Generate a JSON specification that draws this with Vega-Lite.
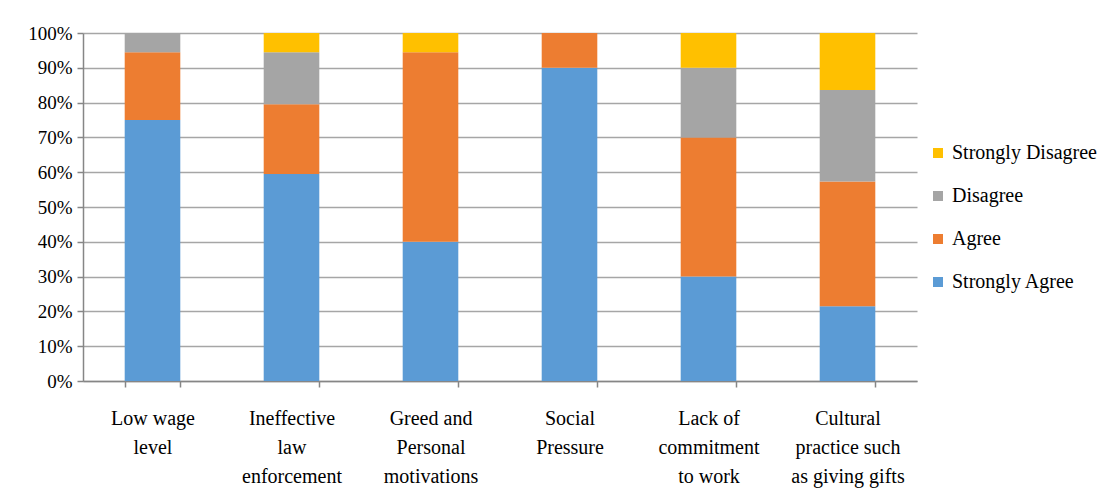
{
  "$schema": "https://vega.github.io/schema/vega-lite/v6.json",
  "width": 834,
  "height": 348,
  "autosize": "none",
  "padding": {"left": 83, "top": 33, "right": 203, "bottom": 116},
  "background": "white",
  "config": {"view": {"stroke": null}, "font": "Times New Roman"},
  "data": {"values": [
    {"cat": "Low wage|level", "resp": "Strongly Agree", "o": 1, "v": 75},
    {"cat": "Low wage|level", "resp": "Agree", "o": 2, "v": 19.5},
    {"cat": "Low wage|level", "resp": "Disagree", "o": 3, "v": 5.5},
    {"cat": "Low wage|level", "resp": "Strongly Disagree", "o": 4, "v": 0},
    {"cat": "Ineffective|law|enforcement", "resp": "Strongly Agree", "o": 1, "v": 59.5},
    {"cat": "Ineffective|law|enforcement", "resp": "Agree", "o": 2, "v": 20},
    {"cat": "Ineffective|law|enforcement", "resp": "Disagree", "o": 3, "v": 15},
    {"cat": "Ineffective|law|enforcement", "resp": "Strongly Disagree", "o": 4, "v": 5.5},
    {"cat": "Greed and|Personal|motivations", "resp": "Strongly Agree", "o": 1, "v": 40},
    {"cat": "Greed and|Personal|motivations", "resp": "Agree", "o": 2, "v": 54.5},
    {"cat": "Greed and|Personal|motivations", "resp": "Disagree", "o": 3, "v": 0},
    {"cat": "Greed and|Personal|motivations", "resp": "Strongly Disagree", "o": 4, "v": 5.5},
    {"cat": "Social|Pressure", "resp": "Strongly Agree", "o": 1, "v": 90},
    {"cat": "Social|Pressure", "resp": "Agree", "o": 2, "v": 10},
    {"cat": "Social|Pressure", "resp": "Disagree", "o": 3, "v": 0},
    {"cat": "Social|Pressure", "resp": "Strongly Disagree", "o": 4, "v": 0},
    {"cat": "Lack of|commitment|to work", "resp": "Strongly Agree", "o": 1, "v": 30},
    {"cat": "Lack of|commitment|to work", "resp": "Agree", "o": 2, "v": 40},
    {"cat": "Lack of|commitment|to work", "resp": "Disagree", "o": 3, "v": 20},
    {"cat": "Lack of|commitment|to work", "resp": "Strongly Disagree", "o": 4, "v": 10},
    {"cat": "Cultural|practice such|as giving gifts", "resp": "Strongly Agree", "o": 1, "v": 21.5},
    {"cat": "Cultural|practice such|as giving gifts", "resp": "Agree", "o": 2, "v": 35.8},
    {"cat": "Cultural|practice such|as giving gifts", "resp": "Disagree", "o": 3, "v": 26.3},
    {"cat": "Cultural|practice such|as giving gifts", "resp": "Strongly Disagree", "o": 4, "v": 16.4}
  ]},
  "mark": {"type": "bar"},
  "encoding": {
    "x": {
      "field": "cat", "type": "nominal", "sort": null,
      "scale": {"paddingInner": 0.6, "paddingOuter": 0.3},
      "axis": {
        "title": null, "labelAngle": 0, "labelExpr": "split(datum.label, '|')",
        "labelFont": "Liberation Serif", "labelFontSize": 20, "labelColor": "#000",
        "labelLineHeight": 29, "labelPadding": 21, "labelBaseline": "top",
        "tickBand": "extent", "tickSize": 6, "tickColor": "#868686", "domainColor": "#868686",
        "domainWidth": 1.5, "tickWidth": 1.5
      }
    },
    "y": {
      "field": "v", "type": "quantitative", "stack": "normalize",
      "scale": {"domain": [0, 1]},
      "axis": {
        "title": null, "format": ".0%", "values": [0,0.1,0.2,0.3,0.4,0.5,0.6,0.7,0.8,0.9,1],
        "labelOverlap": false,
        "labelFont": "Liberation Serif", "labelFontSize": 19, "labelColor": "#000", "labelPadding": 5,
        "tickSize": 6, "tickColor": "#868686", "domainColor": "#868686", "domainWidth": 1.5,
        "gridColor": "#a6a6a6", "gridWidth": 1.5, "tickWidth": 1.5
      }
    },
    "order": {"field": "o", "type": "quantitative"},
    "color": {
      "field": "resp", "type": "nominal",
      "scale": {"domain": ["Strongly Disagree", "Disagree", "Agree", "Strongly Agree"],
                "range": ["#FFC000", "#A5A5A5", "#ED7D31", "#5B9BD5"]},
      "legend": {
        "title": null, "orient": "none", "legendX": 845, "legendY": 110,
        "symbolType": "square", "symbolSize": 100, "symbolStrokeWidth": 0,
        "labelFont": "Liberation Serif", "labelFontSize": 20, "labelColor": "#000",
        "rowPadding": 23, "labelOffset": 4
      }
    }
  }
}
